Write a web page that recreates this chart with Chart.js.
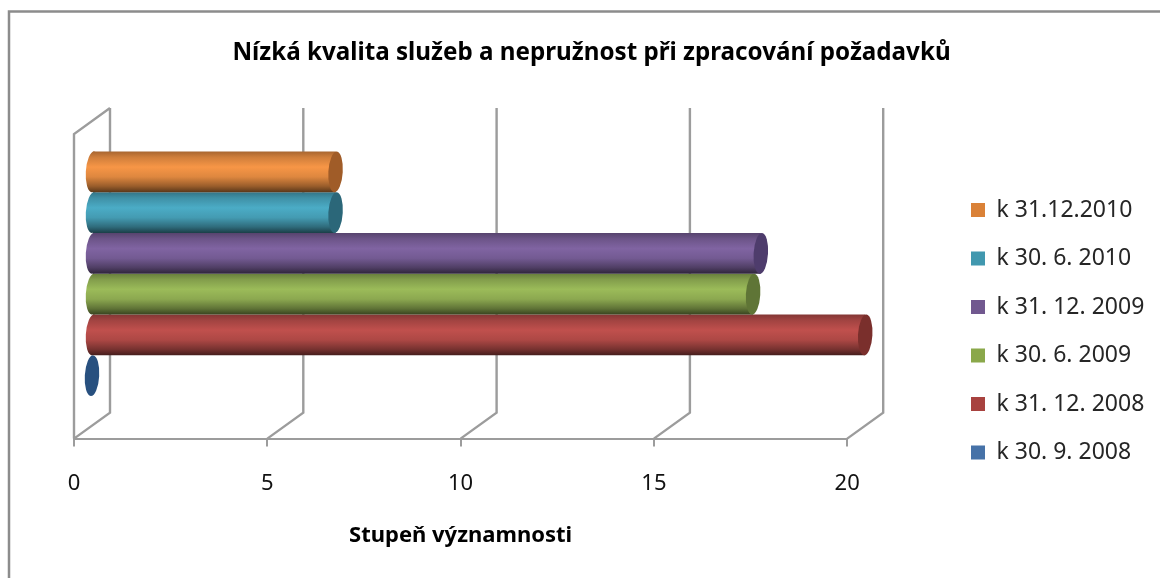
<!DOCTYPE html>
<html><head><meta charset="utf-8">
<script src="https://cdn.jsdelivr.net/npm/chart.js@4"></script>
<style>html,body{margin:0;padding:0;background:#fff}#w{width:1160px;height:578px;position:relative}canvas{display:block;filter:blur(.45px)}</style>
</head><body><div id="w"><canvas id="c" width="1160" height="578"></canvas></div>
<script>
const chartTitle = "Nízká kvalita služeb a nepružnost při zpracování požadavků";
const axisTitle = "Stupeň významnosti";
const categories = [""];
const seriesNames = ["k 31.12.2010","k 30. 6. 2010","k 31. 12. 2009","k 30. 6. 2009","k 31. 12. 2008","k 30. 9. 2008"];
const seriesValues = [6.3, 6.3, 17.3, 17.1, 20, 0];
const axisMin = 0, axisMax = 20, axisStep = 5;
const baseColors = ["#F79646","#4BACC6","#8064A2","#9BBB59","#C0504D","#4F81BD"];
const legendColors = ["#DA8137","#4198AF","#71588F","#8AA84A","#A8423F","#4672A8"];
const capColors = ["#A05C28","#2B6779","#4E3C6C","#5F7536","#7A2F2C","#28507F"];

const DX = 36, DY = -26, OX = 18, OY = -12.5, RX = 7.2, TILT = 0.06;
const GRID = "#9c9c9c", FRAME = "#8c8c8c";
const LEGEND_LEFT = 971, LEGEND_TOP = 173;
function shade(hex, f){
  const n = parseInt(hex.slice(1),16);
  const c = [n>>16,(n>>8)&255,n&255].map(v=>Math.round(v*f));
  return `rgb(${c[0]},${c[1]},${c[2]})`;
}
const scene = {
  id:"scene",
  afterLayout(chart){
    const t = chart.titleBlock; t.left = 23; t.right = 1160;
    const l = chart.legend; const w = l.width, h = l.height;
    l.left = LEGEND_LEFT - l.options.labels.padding; l.right = l.left + w;
    l.top = LEGEND_TOP; l.bottom = l.top + h;
  },
  beforeDraw(chart){
    const c = chart.ctx;
    c.save();
    c.strokeStyle = FRAME; c.lineWidth = 2.5;
    c.beginPath(); c.moveTo(9,578); c.lineTo(9,11.5); c.lineTo(1160,11.5); c.stroke();
    c.restore();
  },
  beforeDatasetsDraw(chart){
    const c = chart.ctx, a = chart.chartArea, x = chart.scales.x;
    c.save();
    c.strokeStyle = GRID; c.lineWidth = 2.4;
    c.beginPath();
    c.moveTo(a.left,a.bottom); c.lineTo(a.left,a.top); c.lineTo(a.left+DX,a.top+DY);
    x.ticks.forEach(t=>{
      const p = x.getPixelForValue(t.value);
      c.moveTo(p,a.bottom); c.lineTo(p+DX,a.bottom+DY); c.lineTo(p+DX,a.top+DY);
    });
    c.stroke();
    c.restore();
    c.save();
    c.translate(OX,OY);
  },
  beforeDatasetDraw(chart,args){
    const c = chart.ctx, el = chart.getDatasetMeta(args.index).data[0];
    const col = baseColors[args.index];
    const top = el.y - el.height/2, bot = el.y + el.height/2;
    const g = c.createLinearGradient(0,top,0,bot);
    g.addColorStop(0, shade(col,.68));
    g.addColorStop(.14, shade(col,.84));
    g.addColorStop(.38, shade(col,1));
    g.addColorStop(.62, shade(col,.9));
    g.addColorStop(.85, shade(col,.62));
    g.addColorStop(1, shade(col,.36));
    el.options = Object.assign({}, el.options, {backgroundColor:g});
    if (el.x > el.base) {
      c.save(); c.fillStyle = g;
      c.beginPath(); c.ellipse(el.base, el.y, RX, el.height/2, TILT, 0, Math.PI*2); c.fill();
      c.restore();
    }
  },
  afterDatasetDraw(chart,args){
    const c = chart.ctx, el = chart.getDatasetMeta(args.index).data[0];
    c.save(); c.fillStyle = capColors[args.index];
    c.beginPath(); c.ellipse(el.x, el.y, RX, el.height/2, TILT, 0, Math.PI*2); c.fill();
    c.restore();
  },
  afterDatasetsDraw(chart){ chart.ctx.restore(); }
};
Chart.defaults.animation = false;
new Chart(document.getElementById("c"),{
  type:"bar",
  plugins:[scene],
  data:{
    labels:categories,
    datasets:seriesNames.map((n,i)=>({
      label:n, data:[seriesValues[i]],
      backgroundColor:legendColors[i], borderWidth:0,
      categoryPercentage:.803, barPercentage:1, clip:false
    }))
  },
  options:{
    indexAxis:"y", responsive:false, animation:false,
    layout:{padding:{left:74,right:104,top:0,bottom:28.6}},
    plugins:{
      tooltip:{enabled:false},
      title:{display:true,text:chartTitle,color:"#000",
        font:{family:"Noto Sans",size:24.2,weight:"bold",lineHeight:1.2},
        padding:{top:39,bottom:66}},
      legend:{display:true,position:"right",align:"start",
        labels:{boxWidth:14,boxHeight:14,padding:25.5,color:"#262626",
          font:{family:"Noto Sans",size:23}}}
    },
    scales:{
      y:{display:false},
      x:{type:"linear",min:axisMin,max:axisMax,
        border:{display:true,color:GRID,width:2},
        grid:{display:true,drawOnChartArea:false,drawTicks:true,tickLength:8,color:GRID,lineWidth:2},
        ticks:{stepSize:axisStep,color:"#111",padding:24,maxRotation:0,font:{family:"Noto Sans",size:22}},
        title:{display:true,text:axisTitle,color:"#000",font:{family:"Noto Sans",size:22,weight:"bold"},padding:{top:2,bottom:0}}
      }
    }
  }
});
</script></body></html>
